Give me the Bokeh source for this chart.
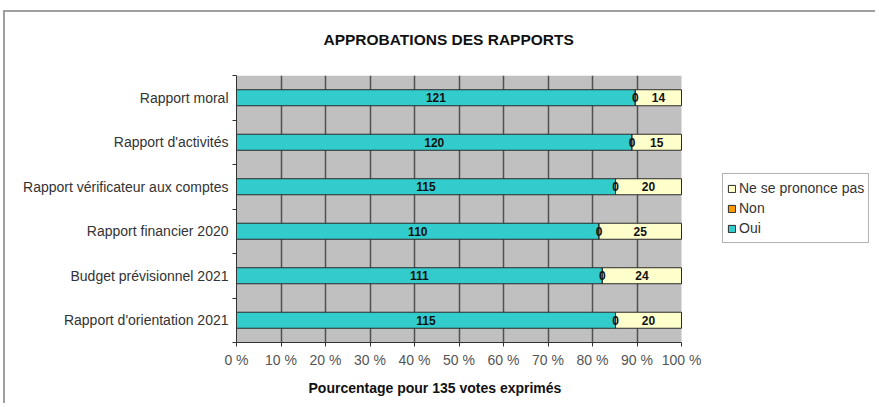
from bokeh.plotting import figure
from bokeh.models import (ColumnDataSource, FixedTicker, Legend, LegendItem, Title, Range1d,
                          BoxAnnotation)
from bokeh.core.properties import value
from bokeh.embed import file_html
from bokeh.resources import INLINE

# ---- data ----
categories = ["Rapport moral", "Rapport d'activités", "Rapport vérificateur aux comptes",
              "Rapport financier 2020", "Budget prévisionnel 2021", "Rapport d'orientation 2021"]
oui = [121, 120, 115, 110, 111, 115]
non = [0, 0, 0, 0, 0, 0]
nsp = [14, 15, 20, 25, 24, 20]
total_votes = 135
x_ticks = [0, 10, 20, 30, 40, 50, 60, 70, 80, 90, 100]
title_text = "APPROBATIONS DES RAPPORTS"
xlabel_text = "Pourcentage pour 135 votes exprimés"

n = len(categories)
ypos = [n - i - 0.5 for i in range(n)]
oui_pct = [v / total_votes * 100 for v in oui]
non_pct = [v / total_votes * 100 for v in non]
nsp_pct = [v / total_votes * 100 for v in nsp]
non_right = [a + b for a, b in zip(oui_pct, non_pct)]
nsp_right = [a + b for a, b in zip(non_right, nsp_pct)]

src = ColumnDataSource(dict(
    y=ypos, oui_pct=oui_pct, non_right=non_right, nsp_right=nsp_right,
    oui_mid=[p / 2 for p in oui_pct],
    nsp_mid=[(a + b) / 2 for a, b in zip(non_right, nsp_right)],
    oui_txt=[str(v) for v in oui], non_txt=[str(v) for v in non], nsp_txt=[str(v) for v in nsp],
))

FONT = "Liberation Sans"

# layout (pixels)
W, HGT = 872, 393
LEFT, TOP, BOTTOM = 231, 63, 63
PLOT_W = 445                       # width of the 0-100 % area
FRAME_W = W - LEFT                 # frame runs to the right edge (legend lives there)
x_end = 100 * FRAME_W / PLOT_W

p = figure(width=W, height=HGT, output_backend="svg", toolbar_location=None,
           x_range=Range1d(0, x_end), y_range=Range1d(0, n),
           min_border_left=LEFT, min_border_right=0, min_border_top=TOP, min_border_bottom=BOTTOM)
p.styles = {"border-top": "2px solid #a0a0a0", "border-left": "2px solid #a0a0a0",
            "margin-top": "10px", "margin-left": "3px"}
p.background_fill_color = "white"
p.border_fill_color = "white"
p.outline_line_color = None

# grey plot area 0-100 %
p.add_layout(BoxAnnotation(left=0, right=100, bottom=0, top=n, fill_color="#C0C0C0",
                           fill_alpha=1.0, line_color=None, level="image"))

# grid
p.ygrid.visible = False
p.xgrid.ticker = FixedTicker(ticks=x_ticks[1:-1])
p.xgrid.grid_line_color = "#505050"
p.xgrid.grid_line_width = 1.5

# x axis
p.xaxis.ticker = FixedTicker(ticks=x_ticks)
p.xaxis.bounds = (0, 100)
p.xaxis.major_label_overrides = {t: f"{t} %" for t in x_ticks}
p.xaxis.major_tick_out = 4
p.xaxis.major_tick_in = 0
p.xaxis.minor_tick_line_color = None
p.xaxis.axis_line_color = "#333333"
p.xaxis.major_tick_line_color = "#333333"
p.xaxis.major_label_text_font = FONT
p.xaxis.major_label_text_font_size = "14px"
p.xaxis.major_label_text_color = "#555555"
p.xaxis.major_label_standoff = 5

# y axis
p.yaxis.ticker = FixedTicker(ticks=ypos, minor_ticks=list(range(n + 1)))
p.yaxis.major_label_overrides = {y: c for y, c in zip(ypos, categories)}
p.yaxis.major_tick_out = 0
p.yaxis.major_tick_in = 0
p.yaxis.minor_tick_out = 4
p.yaxis.minor_tick_in = 0
p.yaxis.minor_tick_line_color = "#333333"
p.yaxis.axis_line_color = "#333333"
p.yaxis.major_label_text_font = FONT
p.yaxis.major_label_text_font_size = "14px"
p.yaxis.major_label_text_color = "#333333"
p.yaxis.major_label_standoff = 4

# bars
H = 0.36
r_oui = p.hbar(y="y", left=0, right="oui_pct", height=H, source=src,
               fill_color="#33CCCC", line_color="#2a2a2a", line_width=1)
r_non = p.hbar(y="y", left="oui_pct", right="non_right", height=H, source=src,
               fill_color="#FF9900", line_color="#2a2a2a", line_width=1)
r_nsp = p.hbar(y="y", left="non_right", right="nsp_right", height=H, source=src,
               fill_color="#FFFFCC", line_color="#2a2a2a", line_width=1)

txt = dict(text_align="center", text_baseline="middle", text_font=value(FONT),
           text_font_size="12px", text_font_style="bold", text_color="#111111", source=src)
p.text(x="oui_mid", y="y", text="oui_txt", **txt)
p.text(x="oui_pct", y="y", text="non_txt", **txt)
p.text(x="nsp_mid", y="y", text="nsp_txt", **txt)

# legend (inside the extended frame, right of the 100 % line)
legend = Legend(items=[LegendItem(label="Ne se prononce pas", renderers=[r_nsp]),
                       LegendItem(label="Non", renderers=[r_non]),
                       LegendItem(label="Oui", renderers=[r_oui])],
                location=(486, 99), glyph_width=9, glyph_height=9, label_standoff=3,
                padding=4, spacing=0, label_height=20, label_text_font=FONT,
                label_text_font_size="14px", label_text_color="#333333",
                border_line_color="#666666", border_line_width=1.5,
                background_fill_color="white", background_fill_alpha=1.0, margin=0)
p.add_layout(legend, "center")

# spacer + chart title (above)
p.add_layout(Title(text=" ", text_font_size="1px", standoff=23), "above")
p.add_layout(Title(text=title_text, align="left", offset=87,
                   vertical_align="top", standoff=0, text_font=FONT,
                   text_font_size="15.5px", text_font_style="bold", text_color="#111111"), "above")

# spacer + x axis title (below)
p.add_layout(Title(text=" ", text_font_size="1px", standoff=6), "below")
p.add_layout(Title(text=xlabel_text, align="left", offset=72,
                   vertical_align="top", standoff=0, text_font=FONT,
                   text_font_size="14px", text_font_style="bold", text_color="#111111"), "below")

open("out.html", "w").write(file_html(p, INLINE))
